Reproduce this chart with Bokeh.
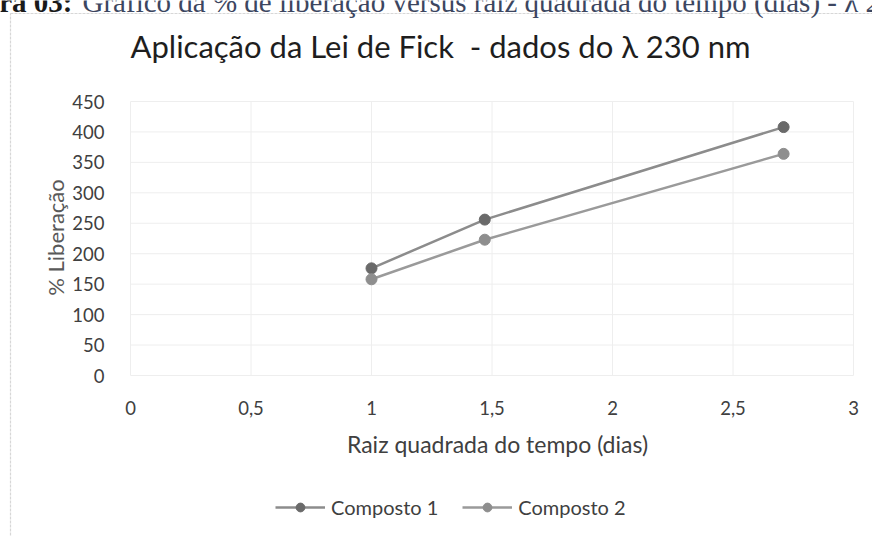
import math

from bokeh.embed import file_html
from bokeh.models import BoxAnnotation, FixedTicker, Label, LinearAxis, Range1d
from bokeh.plotting import figure
from bokeh.resources import INLINE

# square root of time (days) and % released for each compound
x_values = [1.0, 1.47, 2.71]
composto_1 = [176, 256, 408]
composto_2 = [158, 223, 364]

series_names = ["Composto 1", "Composto 2"]

x_ticks = [0, 0.5, 1, 1.5, 2, 2.5, 3]
x_tick_labels = ["0", "0,5", "1", "1,5", "2", "2,5", "3"]
y_ticks = [0, 50, 100, 150, 200, 250, 300, 350, 400, 450]
y_tick_labels = [str(v) for v in y_ticks]

chart_title = "Aplicação da Lei de Fick\u00a0 - dados do λ 230 nm"
x_title = "Raiz quadrada do tempo (dias)"
y_title = "% Liberação"
caption_head = "Figura 03:"
caption_body = "Gráfico da % de liberação versus raiz quadrada do tempo (dias) - λ 230 nm"

W, H = 872, 536
# where the plotting area sits on the page (pixels from top-left)
LEFT, RIGHT, TOP, BOTTOM = 130, 853, 101, 375
X0, X1 = x_ticks[0], x_ticks[-1]
Y0, Y1 = y_ticks[0], y_ticks[-1]

# the frame covers the whole page; the ranges are widened so that the
# data area lands on the plotting area above
kx = (RIGHT - LEFT) / (X1 - X0)
ky = (BOTTOM - TOP) / (Y1 - Y0)
x_range = Range1d(X0 - LEFT / kx, X1 + (W - RIGHT) / kx)
y_range = Range1d(Y0 - (H - BOTTOM) / ky, Y1 + TOP / ky)

SANS = "Lato"
TEXT = "#404040"

p = figure(
    width=W, height=H,
    output_backend="svg", toolbar_location=None,
    x_range=x_range, y_range=y_range,
    x_axis_type=None, y_axis_type=None,
    min_border=0,
    background_fill_color="white", border_fill_color="white",
)
p.outline_line_color = None
p.grid.visible = False


def sx(px):
    return px


def sy(py):
    return H - py


# axes pinned to the data origin: labels only, no lines or ticks
xaxis = LinearAxis(fixed_location=Y0, ticker=FixedTicker(ticks=x_ticks),
                   major_label_overrides=dict(zip(x_ticks, x_tick_labels)),
                   major_label_standoff=19)
yaxis = LinearAxis(fixed_location=X0, ticker=FixedTicker(ticks=y_ticks),
                   major_label_overrides=dict(zip(y_ticks, y_tick_labels)),
                   major_label_standoff=20)
for ax in (xaxis, yaxis):
    ax.axis_line_color = None
    ax.major_tick_line_color = None
    ax.minor_tick_line_color = None
    ax.major_label_text_font = SANS
    ax.major_label_text_font_size = "18.5px"
    ax.major_label_text_color = TEXT
p.add_layout(xaxis, "below")
p.add_layout(yaxis, "left")

# gridlines over the plotting area
GRID = "#eeeeee"
p.segment(x0=[X0] * len(y_ticks), x1=[X1] * len(y_ticks), y0=y_ticks, y1=y_ticks,
          line_color=GRID, line_width=1)
p.segment(x0=x_ticks, x1=x_ticks, y0=[Y0] * len(x_ticks), y1=[Y1] * len(x_ticks),
          line_color=GRID, line_width=1)

# data series
styles = [
    dict(line="#8c8c8c", marker="#6a6a6a"),
    dict(line="#9a9a9a", marker="#8e8e8e"),
]
for name, ys, st in zip(series_names, [composto_1, composto_2], styles):
    p.line(x_values, ys, line_color=st["line"], line_width=2.5, legend_label=name)
    p.scatter(x_values, ys, size=11, fill_color=st["marker"], line_color=st["marker"],
              legend_label=name)

leg = p.legend[0]
leg.orientation = "horizontal"
leg.location = (sx(275), sy(519))
leg.border_line_color = None
leg.background_fill_alpha = 0
leg.label_text_font = SANS
leg.label_text_font_size = "20px"
leg.label_text_color = TEXT
leg.glyph_width = 50
leg.glyph_height = 22
leg.label_standoff = 6
leg.spacing = 24
leg.padding = 0
leg.margin = 0

# chart title and axis titles
p.add_layout(Label(x=sx(440), y=sy(45), x_units="screen", y_units="screen",
                   text=chart_title, text_align="center", text_baseline="middle",
                   text_font=SANS, text_font_size="31px", text_color="#1e1e1e"))
p.add_layout(Label(x=sx(497), y=sy(443), x_units="screen", y_units="screen",
                   text=x_title, text_align="center", text_baseline="middle",
                   text_font=SANS, text_font_size="23px", text_color=TEXT))
p.add_layout(Label(x=sx(55), y=sy(237), x_units="screen", y_units="screen",
                   text=y_title, text_align="center", text_baseline="middle",
                   angle=math.pi / 2,
                   text_font=SANS, text_font_size="22px", text_color="#595959"))

# chart border box
p.add_layout(BoxAnnotation(left=sx(10), right=sx(W + 20), top=sy(13), bottom=sy(H + 20),
                           left_units="screen", right_units="screen",
                           top_units="screen", bottom_units="screen",
                           fill_alpha=0, line_color="#7a7a7a", line_width=1.2,
                           line_dash="3 1"))

# caption line of the page, above the chart box
p.add_layout(Label(x=sx(72), y=sy(1), x_units="screen", y_units="screen",
                   text=caption_head, text_align="right", text_baseline="alphabetic",
                   text_font="Liberation Serif", text_font_size="29px",
                   text_font_style="bold", text_color="#1a1a1a"))
p.add_layout(Label(x=sx(82), y=sy(1), x_units="screen", y_units="screen",
                   text=caption_body, text_align="left", text_baseline="alphabetic",
                   text_font="Liberation Serif", text_font_size="29px",
                   text_color="#3c4660"))

open("out.html", "w").write(file_html(p, INLINE))
